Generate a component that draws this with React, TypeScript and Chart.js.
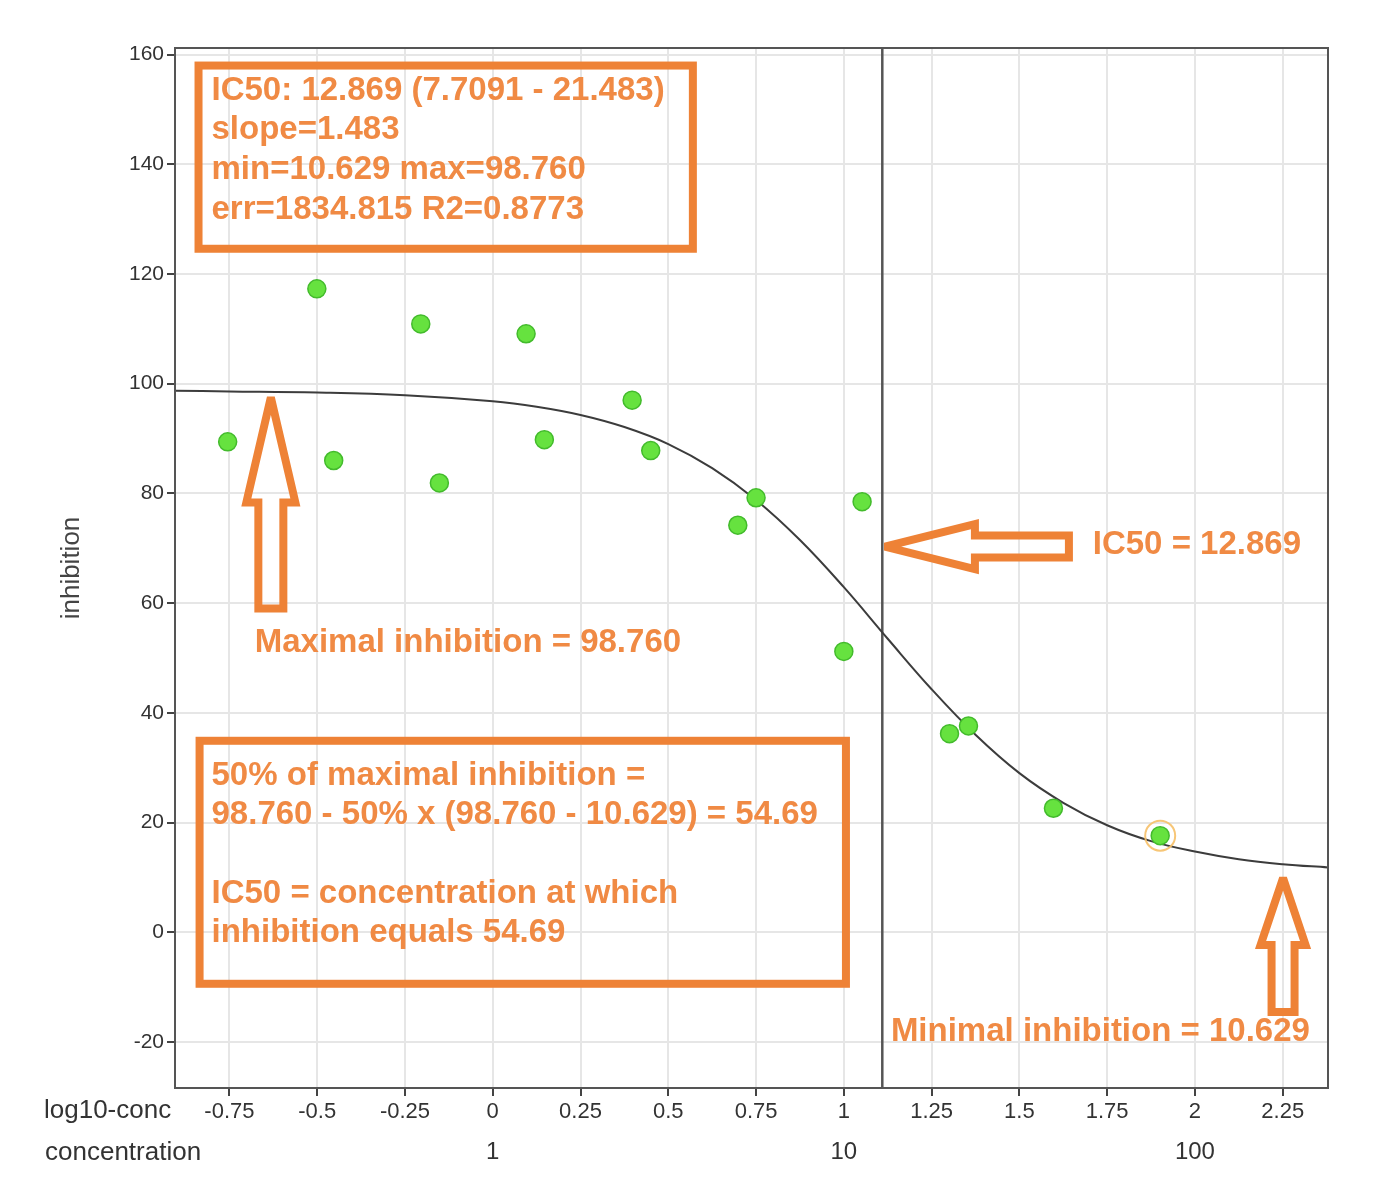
import { useEffect, useRef } from 'react';
import { Chart, registerables, type Plugin } from 'chart.js';

Chart.register(...registerables);

// measured points: log10 of concentration vs. inhibition (%)
const logConc = [-0.755, -0.501, -0.453, -0.205, -0.152, 0.095, 0.147, 0.397, 0.45, 0.698, 0.75, 1.0, 1.052, 1.301, 1.355, 1.597, 1.901];
const inhibition = [89.4, 117.3, 86.0, 110.9, 81.9, 109.1, 89.8, 97.0, 87.8, 74.2, 79.2, 51.2, 78.5, 36.2, 37.6, 22.6, 17.6];
const highlightIndex = 16;

// fitted dose-response curve
const fitLogConc = [-0.905, -0.75, -0.5, -0.25, 0, 0.125, 0.25, 0.375, 0.5, 0.625, 0.75, 0.875, 1, 1.125, 1.25, 1.375, 1.5, 1.625, 1.75, 1.875, 2, 2.125, 2.25, 2.379];
const fitInhibition = [98.7, 98.6, 98.4, 97.9, 96.8, 95.8, 94.3, 92.1, 89.0, 84.6, 78.8, 71.5, 62.9, 53.5, 44.3, 36.0, 29.0, 23.6, 19.5, 16.6, 14.7, 13.3, 12.4, 11.8];

const logTicks = [-0.75, -0.5, -0.25, 0, 0.25, 0.5, 0.75, 1, 1.25, 1.5, 1.75, 2, 2.25];
const logTickLabels = ['-0.75', '-0.5', '-0.25', '0', '0.25', '0.5', '0.75', '1', '1.25', '1.5', '1.75', '2', '2.25'];
const concTicks = [0, 1, 2];
const concTickLabels = ['1', '10', '100'];
const inhibitionTicks = [-20, 0, 20, 40, 60, 80, 100, 120, 140, 160];

const ic50 = 12.869;
const minInhibition = 10.629;
const maxInhibition = 98.76;

const X_MIN = -0.905;
const X_MAX = 2.379;
const Y_MIN = -28.4;
const Y_MAX = 161.2;

const FONT = "'Liberation Sans', Arial, sans-serif";
const ORANGE = '#ee8236';
const ORANGE_TEXT = '#f08a44';
const GRID = '#e6e6e6';

const statsLines = [
    'IC50: 12.869 (7.7091 - 21.483)',
    'slope=1.483',
    'min=10.629 max=98.760',
    'err=1834.815 R2=0.8773'
];
const explainLines = [
    '50% of maximal inhibition =',
    '98.760 - 50% x (98.760 - 10.629) = 54.69',
    '',
    'IC50 = concentration at which',
    'inhibition equals 54.69'
];

const annotations: Plugin<'scatter'> = {
    id: 'annotations',
    afterDraw(chart) {
        const { ctx, chartArea, scales } = chart;
        const px = (v: number) => scales.x.getPixelForValue(v);
        const py = (v: number) => scales.y.getPixelForValue(v);

        ctx.save();

        // plot frame
        ctx.strokeStyle = '#555';
        ctx.lineWidth = 2;
        ctx.strokeRect(chartArea.left, chartArea.top, chartArea.right - chartArea.left, chartArea.bottom - chartArea.top);

        // axis captions
        ctx.fillStyle = '#333';
        ctx.textBaseline = 'middle';
        ctx.textAlign = 'left';
        ctx.font = `26px ${FONT}`;
        ctx.fillText('log10-conc', 44, scales.x.top + 23);
        ctx.fillText('concentration', 45, scales.x2.top + 25);

        ctx.save();
        ctx.translate(chartArea.left - 103, (chartArea.top + chartArea.bottom) / 2);
        ctx.rotate(-Math.PI / 2);
        ctx.textAlign = 'center';
        ctx.fillStyle = '#444';
        ctx.fillText('inhibition', 0, 0);
        ctx.restore();

        // boxes
        ctx.strokeStyle = ORANGE;
        ctx.lineWidth = 8;
        ctx.lineJoin = 'miter';
        const box = (x0: number, y0: number, x1: number, y1: number) => {
            ctx.strokeRect(px(x0), py(y0), px(x1) - px(x0), py(y1) - py(y0));
        };
        box(-0.838, 158.0, 0.57, 124.6);
        box(-0.835, 34.9, 1.006, -9.4);

        // texts
        ctx.fillStyle = ORANGE_TEXT;
        ctx.font = `bold 33px ${FONT}`;
        ctx.textAlign = 'left';
        const lines = (rows: string[], xv: number, yv: number, step: number) => {
            rows.forEach((t, i) => ctx.fillText(t, px(xv), py(yv) + i * step));
        };
        lines(statsLines, -0.801, 153.4, 39.6);
        lines(explainLines, -0.801, 28.5, 39.3);
        ctx.fillText(`Maximal inhibition = ${maxInhibition.toFixed(3)}`, px(-0.678), py(52.8));
        ctx.fillText(`IC50 = ${ic50.toFixed(3)}`, px(1.709), py(70.6));
        ctx.fillText(`Minimal inhibition = ${minInhibition.toFixed(3)}`, px(1.134), py(-18.1));

        // hollow arrows, tip given in data units, shape in pixels
        const arrow = (xv: number, yv: number, dir: 'up' | 'left', head: number, headHalf: number, shaftHalf: number, len: number) => {
            const tx = px(xv);
            const ty = py(yv);
            const pts: [number, number][] = [
                [0, 0], [head, -headHalf], [head, -shaftHalf], [len, -shaftHalf],
                [len, shaftHalf], [head, shaftHalf], [head, headHalf]
            ];
            ctx.beginPath();
            pts.forEach(([a, b], i) => {
                const X = dir === 'up' ? tx + b : tx + a;
                const Y = dir === 'up' ? ty + a : ty + b;
                if (i === 0) ctx.moveTo(X, Y); else ctx.lineTo(X, Y);
            });
            ctx.closePath();
            ctx.stroke();
        };
        ctx.miterLimit = 2.5;
        arrow(-0.632, 97.5, 'up', 105, 24.5, 12.5, 211);
        arrow(1.117, 70.3, 'left', 90, 22.5, 11, 184);
        arrow(2.251, 9.9, 'up', 67, 22.5, 11.5, 134);

        ctx.restore();
    }
};

const App = () => {
    const canvas = useRef<HTMLCanvasElement>(null);

    useEffect(() => {
        Chart.defaults.font.family = FONT;
        Chart.defaults.color = '#333';

        const ic50Log = Math.log10(ic50);

        const chart = new Chart(
            // @ts-expect-error ref is set
            canvas.current,
            {
                type: 'scatter',
                data: {
                    datasets: [
                        {
                            label: 'highlight',
                            data: [{ x: logConc[highlightIndex], y: inhibition[highlightIndex] }],
                            pointRadius: 15,
                            backgroundColor: 'rgba(0,0,0,0)',
                            borderColor: 'rgba(246, 192, 104, 0.9)',
                            borderWidth: 2
                        },
                        {
                            label: 'inhibition',
                            data: logConc.map((x, i) => ({ x, y: inhibition[i] })),
                            pointRadius: 9,
                            backgroundColor: '#66e23f',
                            borderColor: '#43bb2c',
                            borderWidth: 1.5
                        },
                        {
                            label: 'fit',
                            data: fitLogConc.map((x, i) => ({ x, y: fitInhibition[i] })),
                            showLine: true,
                            pointRadius: 0,
                            borderColor: '#3c3c3c',
                            borderWidth: 2,
                            tension: 0.4
                        },
                        {
                            label: 'IC50',
                            data: [{ x: ic50Log, y: Y_MIN }, { x: ic50Log, y: Y_MAX }],
                            showLine: true,
                            pointRadius: 0,
                            borderColor: '#555',
                            borderWidth: 2.5
                        }
                    ]
                },
                options: {
                    animation: false,
                    responsive: false,
                    layout: {
                        padding: { top: 48, right: 70, bottom: 22, left: 0 }
                    },
                    plugins: {
                        legend: { display: false },
                        tooltip: { enabled: false }
                    },
                    scales: {
                        x: {
                            type: 'linear',
                            position: 'bottom',
                            min: X_MIN,
                            max: X_MAX,
                            weight: 0,
                            afterBuildTicks: (scale) => {
                                scale.ticks = logTicks.map(value => ({ value }));
                            },
                            afterFit: (scale) => {
                                scale.height = 40;
                            },
                            ticks: {
                                callback: (_v, i) => logTickLabels[i],
                                font: { size: 22 },
                                color: '#333',
                                padding: 3,
                                maxRotation: 0,
                                autoSkip: false
                            },
                            grid: {
                                color: GRID,
                                lineWidth: 2,
                                tickColor: '#444',
                                tickLength: 8,
                                tickWidth: 2
                            },
                            border: { display: false }
                        },
                        x2: {
                            type: 'linear',
                            position: 'bottom',
                            min: X_MIN,
                            max: X_MAX,
                            weight: 1,
                            afterBuildTicks: (scale) => {
                                scale.ticks = concTicks.map(value => ({ value }));
                            },
                            afterFit: (scale) => {
                                scale.height = 50;
                            },
                            ticks: {
                                callback: (_v, i) => concTickLabels[i],
                                font: { size: 24 },
                                color: '#333',
                                padding: 10,
                                maxRotation: 0,
                                autoSkip: false
                            },
                            grid: { display: false, drawTicks: false },
                            border: { display: false }
                        },
                        y: {
                            type: 'linear',
                            min: Y_MIN,
                            max: Y_MAX,
                            afterBuildTicks: (scale) => {
                                scale.ticks = inhibitionTicks.map(value => ({ value }));
                            },
                            afterFit: (scale) => {
                                scale.width = 175;
                            },
                            ticks: {
                                font: { size: 21 },
                                color: '#333',
                                padding: 3
                            },
                            grid: {
                                color: GRID,
                                lineWidth: 2,
                                tickColor: '#444',
                                tickLength: 8,
                                tickWidth: 2
                            },
                            border: { display: false }
                        }
                    }
                },
                plugins: [annotations]
            }
        );

        return () => {
            chart.destroy();
        };
    }, []);

    return (
        <div style={{ position: 'absolute', left: 0, top: 0, width: 1398, height: 1200, background: '#fff' }}>
            <canvas ref={canvas} width={1398} height={1200} role="img" aria-label="IC50 dose-response curve"></canvas>
        </div>
    );
};

export default App;
